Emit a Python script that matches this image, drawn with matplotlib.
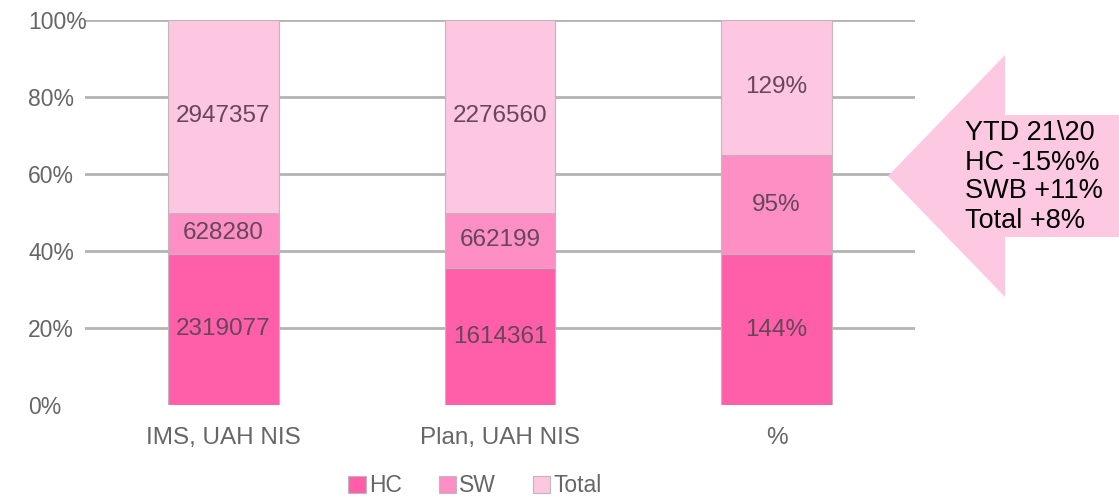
import matplotlib

matplotlib.use("Agg")
import matplotlib.pyplot as plt  # noqa: E402
import numpy as np  # noqa: E402
from matplotlib.patches import Polygon  # noqa: E402

plt.rcParams["font.family"] = ["Liberation Sans", "DejaVu Sans"]

# ── data (raw values; bars are shown as share of the column total) ────────────
categories = ["IMS, UAH NIS", "Plan, UAH NIS", "%"]
series = ["HC", "SW", "Total"]
hc_vals = [2319077, 1614361, 144]
sw_vals = [628280, 662199, 95]
total_vals = [2947357, 2276560, 129]
label_suffix = ["", "", "%"]
note_lines = ["YTD 21\\20", "HC -15%%", "SWB +11%", "Total +8%"]

colors = {"HC": "#ff5fa9", "SW": "#fd8fc5", "Total": "#fdc6e1"}
GRID = "#b3b3b3"
TICK_TXT = "#666666"
BAR_TXT = "#664658"

W, H = 1119, 497
fig = plt.figure(figsize=(W / 100, H / 100), dpi=100)
ax = fig.add_axes([85 / W, 1 - 405 / H, 830 / W, 385 / H])

vals = np.array([hc_vals, sw_vals, total_vals], dtype=float)
shares = vals / vals.sum(axis=0)
x = np.arange(len(categories))
bottom = np.zeros(len(categories))
for i, name in enumerate(series):
    ax.bar(x, shares[i], 0.4, bottom=bottom, color=colors[name],
           edgecolor="#c4b4bc", linewidth=0.8, label=name, zorder=3)
    for xi, b, s, v, suf in zip(x, bottom, shares[i], vals[i], label_suffix):
        ax.text(xi, b + s / 2, f"{int(v)}{suf}", ha="center", va="center",
                fontsize=17.5, color=BAR_TXT, zorder=4)
    bottom += shares[i]

# horizontal gridlines (none at 0%)
for yv in (0.2, 0.4, 0.6, 0.8, 1.0):
    ax.axhline(yv, color=GRID, linewidth=2, zorder=1)

ax.set_xlim(-0.5, 2.5)
ax.set_ylim(0, 1)
ax.set_yticks([0, 0.2, 0.4, 0.6, 0.8, 1.0])
ax.set_yticklabels(["0%", "20%", "40%", "60%", "80%", "100%"])
ax.set_xticks(x)
ax.set_xticklabels(categories)
ax.tick_params(axis="y", length=0, pad=41, labelsize=16.5, labelcolor=TICK_TXT)
ax.tick_params(axis="x", length=0, pad=16, labelsize=17.5, labelcolor=TICK_TXT)
for lab in ax.get_yticklabels():
    lab.set_horizontalalignment("left")
for sp in ax.spines.values():
    sp.set_visible(False)

fig.legend(loc="center", bbox_to_anchor=(475 / W, 1 - 486 / H), ncol=3,
           frameon=False, fontsize=16.5, handlelength=0.75, handleheight=0.75,
           handletextpad=0.15, columnspacing=1.6, labelcolor=TICK_TXT)

# left-pointing block arrow with the YTD note
pts = [(888, 176), (1005, 55), (1005, 115), (W, 115), (W, 237),
       (1005, 237), (1005, 297)]
arrow = Polygon([(px / W, 1 - py / H) for px, py in pts], closed=True,
                transform=fig.transFigure, facecolor="#fdc8e2", edgecolor="none")
fig.patches.append(arrow)
fig.text(965 / W, 1 - 177 / H, "\n".join(note_lines), ha="left", va="center",
         fontsize=19.5, color="black", linespacing=1.15)

fig.savefig("out.png", dpi=100)
plt.close(fig)
